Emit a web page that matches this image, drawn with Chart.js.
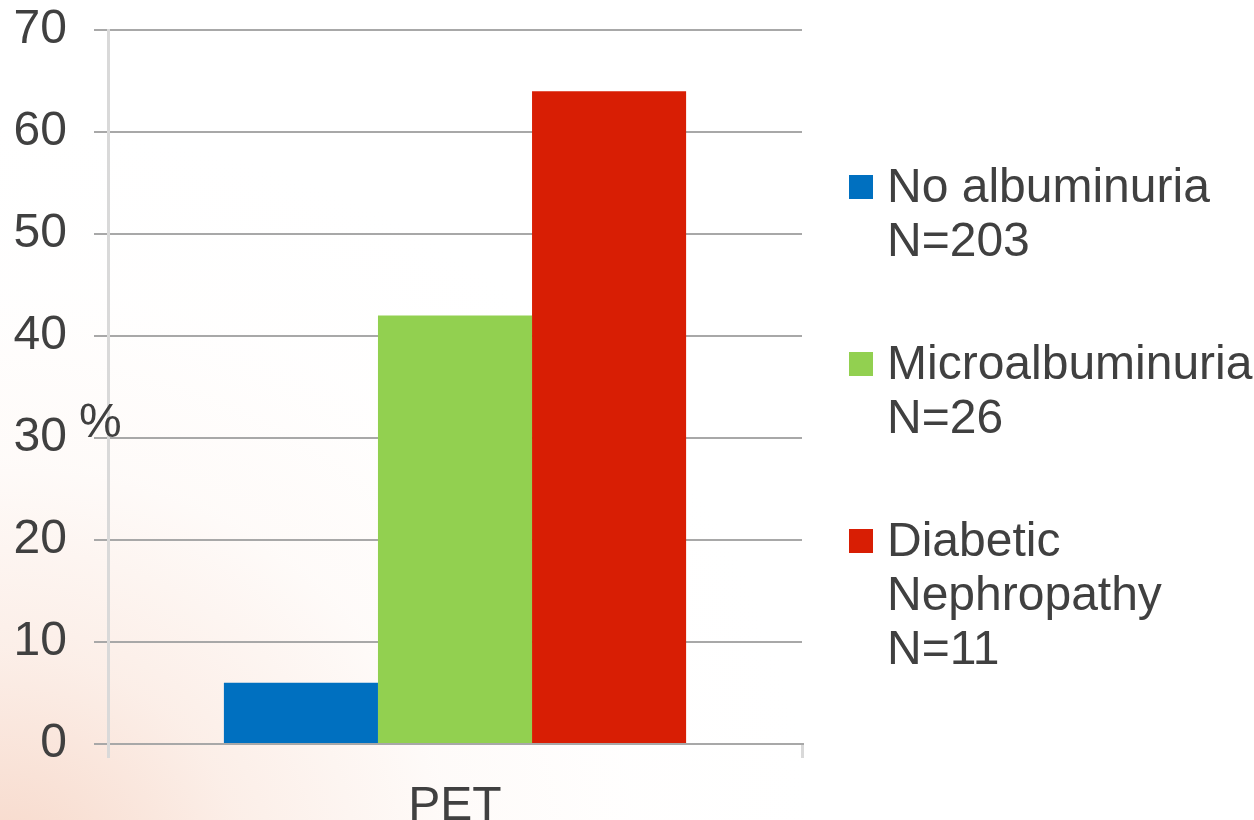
<!DOCTYPE html>
<html>
<head>
<meta charset="utf-8">
<script src="https://cdn.jsdelivr.net/npm/chart.js@4/dist/chart.umd.min.js"></script>
<style>
  html, body { margin: 0; padding: 0; }
  body {
    width: 1254px; height: 820px; overflow: hidden; position: relative;
    background:
      radial-gradient(ellipse 820px 760px at 0px 880px,
        rgba(238, 175, 145, 0.50) 0%,
        rgba(244, 200, 178, 0.30) 30%,
        rgba(250, 228, 216, 0.16) 55%,
        rgba(253, 243, 238, 0.06) 78%,
        rgba(255, 255, 255, 0) 100%),
      #ffffff;
    font-family: "Liberation Sans", Arial, sans-serif;
  }
  #wrap { position: absolute; left: 0; top: 0; width: 1254px; height: 820px; }
  #legend { position: absolute; left: 849px; top: 159px; }
  .item { position: relative; padding-left: 38px; margin-bottom: 69px;
          font-size: 48px; line-height: 54px; color: #404040; white-space: nowrap; }
  .swatch { position: absolute; left: 0; top: 16px; width: 24px; height: 24px; }
</style>
</head>
<body>
<div id="wrap"><canvas id="c" width="1254" height="820"></canvas></div>
<div id="legend"></div>
<script>
// Category, series names (multi-line legend labels) and values
const categories = ['PET'];
const seriesLabels = [
  ['No albuminuria', 'N=203'],
  ['Microalbuminuria', 'N=26'],
  ['Diabetic', 'Nephropathy', 'N=11']
];
const seriesValues = [[6], [42], [64]];
const seriesColors = ['#0070c0', '#92d050', '#d81e04'];
const yTicks = [0, 10, 20, 30, 40, 50, 60, 70];
const yUnit = '%';

const textColor = '#404040';
const fontFamily = '"Liberation Sans", Arial, sans-serif';

// Unit label drawn beside the value axis
const unitLabel = {
  id: 'unitLabel',
  afterDraw(chart) {
    const ctx = chart.ctx;
    ctx.save();
    ctx.font = '48px ' + fontFamily;
    ctx.fillStyle = textColor;
    ctx.textAlign = 'left';
    ctx.textBaseline = 'alphabetic';
    ctx.fillText(yUnit, 79, 437);
    ctx.restore();
  }
};

const datasets = seriesValues.map((vals, i) => ({
  label: seriesLabels[i].join(' '),
  data: vals,
  backgroundColor: seriesColors[i],
  borderWidth: 0,
  barPercentage: 1,
  categoryPercentage: 0.666
}));

new Chart(document.getElementById('c'), {
  type: 'bar',
  data: { labels: categories, datasets },
  options: {
    responsive: false,
    animation: false,
    devicePixelRatio: 1,
    layout: { padding: { left: 0, right: 452, top: 30, bottom: 0 } },
    plugins: { legend: { display: false }, tooltip: { enabled: false } },
    scales: {
      x: {
        offset: true,
        grid: {
          display: true, drawOnChartArea: false, drawTicks: true,
          tickLength: 14, color: '#d9d9d9', lineWidth: 3, offset: true
        },
        border: { display: true, color: '#a8a8a8', width: 2 },
        ticks: { color: textColor, font: { size: 48, family: fontFamily }, padding: 20 },
        afterFit(scale) {
          scale.height = 76;
          scale.paddingLeft = 0; scale.paddingRight = 0;
        }
      },
      y: {
        min: yTicks[0],
        max: yTicks[yTicks.length - 1],
        afterBuildTicks(scale) { scale.ticks = yTicks.map(v => ({ value: v })); },
        grid: { color: '#a8a8a8', lineWidth: 2, tickLength: 14, drawTicks: true },
        border: { display: true, color: '#d9d9d9', width: 3 },
        ticks: { color: textColor, font: { size: 48, family: fontFamily }, padding: 27 },
        afterFit(scale) {
          scale.width = 108;
          scale.paddingTop = 0; scale.paddingBottom = 0;
        }
      }
    }
  },
  plugins: [unitLabel]
});

// Legend with multi-line entries
const legend = document.getElementById('legend');
seriesLabels.forEach((lines, i) => {
  const item = document.createElement('div');
  item.className = 'item';
  const sw = document.createElement('span');
  sw.className = 'swatch';
  sw.style.background = seriesColors[i];
  item.appendChild(sw);
  lines.forEach(t => {
    const l = document.createElement('div');
    l.textContent = t;
    item.appendChild(l);
  });
  legend.appendChild(item);
});
</script>
</body>
</html>
